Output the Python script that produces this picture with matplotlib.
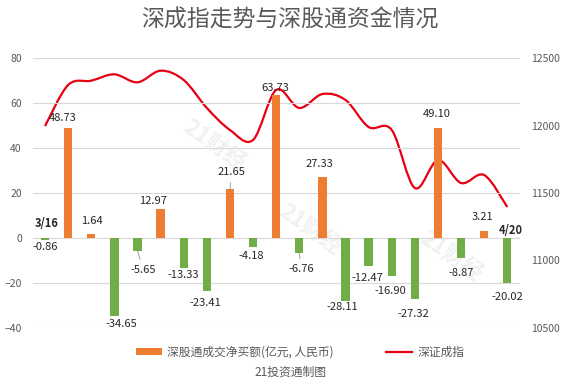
"""深成指走势与深股通资金情况: bars of net buying plus the SZ component index."""

import matplotlib

matplotlib.use("Agg")
import matplotlib.pyplot as plt
import numpy as np
from matplotlib.path import Path
from matplotlib.patches import PathPatch, Patch
from matplotlib.lines import Line2D

plt.rcParams["font.family"] = ["Noto Sans CJK SC", "DejaVu Sans"]

TITLE = "深成指走势与深股通资金情况"
BAR_NAME = "深股通成交净买额(亿元, 人民币)"
LINE_NAME = "深证成指"
SOURCE = "21投资通制图"

# daily net buying (100m CNY), 3/16 .. 4/20
net_buy = [-0.86, 48.73, 1.64, -34.65, -5.65, 12.97, -13.33, -23.41, 21.65, -4.18,
           63.73, -6.76, 27.33, -28.11, -12.47, -16.90, -27.32, 49.10, -8.87, 3.21,
           -20.02]
# Shenzhen component index close
szci = [11996, 12300, 12332, 12379, 12320, 12406, 12337, 12130, 11967, 11893,
        12263, 12130, 12233, 12189, 11989, 11967, 11537, 11744, 11574, 11633,
        11396]
first_day, last_day = "3/16", "4/20"

# label offsets (pixels, from bar end to label centre) and leader-line flags
label_off = [(0, -7), (-5, 10), (1, 13), (7, -8), (6, -19), (-8, 8), (0, -7),
             (-1, -12), (2, 17), (-2, -9), (-1, 7), (2, -16), (-3, 13), (-3, -6),
             (-1, -12), (-1, -15), (-1, -15), (-1, 14), (0, -15), (-2, 14), (0, -14)]
leader = {4, 8, 11}

ORANGE = "#ED7D31"
GREEN = "#70AD47"
RED = "#E60012"
GREY = "#595959"


def smooth_path(x, y):
    """Catmull-Rom curve through the points, as cubic Bezier segments."""
    n = len(x)
    verts = [(x[0], y[0])]
    codes = [Path.MOVETO]
    for i in range(n - 1):
        p0 = np.array([x[max(i - 1, 0)], y[max(i - 1, 0)]], float)
        p1 = np.array([x[i], y[i]], float)
        p2 = np.array([x[i + 1], y[i + 1]], float)
        p3 = np.array([x[min(i + 2, n - 1)], y[min(i + 2, n - 1)]], float)
        c1 = p1 + (p2 - p0) / 6
        c2 = p2 - (p3 - p1) / 6
        verts += [tuple(c1), tuple(c2), tuple(p2)]
        codes += [Path.CURVE4] * 3
    return Path(verts, codes)


def main() -> None:
    fig = plt.figure(figsize=(5.64, 3.82), dpi=100)
    ax = fig.add_axes([33 / 564, 1 - 328 / 382, 487 / 564, 270 / 382])
    ax2 = ax.twinx()

    # faint watermark
    for wx, wy in [(0.38, 0.62), (0.55, 0.40), (0.80, 0.33)]:
        fig.text(wx, wy, "21财经", rotation=-35, fontsize=16, color="#F1F1F1",
                 fontweight="bold", ha="center", va="center", zorder=-1)

    x = np.arange(len(net_buy))
    colors = [ORANGE if v >= 0 else GREEN for v in net_buy]
    ax.bar(x, net_buy, width=0.36, color=colors, zorder=2)

    ax.set_xlim(-0.52, len(x) - 0.45)
    ax.set_ylim(-40, 80)
    ax.set_yticks(range(-40, 81, 20))
    ax.grid(axis="y", color="#D9D9D9", lw=0.8, zorder=0)
    ax.set_xticks([])
    for a in (ax, ax2):
        for s in a.spines.values():
            s.set_visible(False)
        a.tick_params(length=0, labelsize=7.5, labelcolor=GREY, pad=8)

    # index line on the right axis
    ax2.set_ylim(10500, 12500)
    ax2.set_yticks(range(10500, 12501, 500))
    ax2.add_patch(PathPatch(smooth_path(x, szci), fill=False, edgecolor=RED,
                            lw=1.6, zorder=3))
    ax2.set_zorder(0)
    ax.set_zorder(1)
    ax.patch.set_visible(False)

    for i, v in enumerate(net_buy):
        dx, dy = label_off[i]
        arrow = None
        if i in leader:
            arrow = dict(arrowstyle="-", color="#8C8C8C", lw=0.6, shrinkA=2, shrinkB=0)
        ax.annotate(f"{v:.2f}", xy=(i, v), xytext=(dx, dy),
                    textcoords="offset pixels", ha="center", va="center",
                    fontsize=8, color="#262626", arrowprops=arrow, zorder=5)

    ax.annotate(first_day, xy=(0, net_buy[0]), xytext=(2, 16),
                textcoords="offset pixels", ha="center", va="center",
                fontsize=8, fontweight="bold", color="#262626", zorder=5)
    ax.annotate(last_day, xy=(len(x) - 1, 0), xytext=(3, 7),
                textcoords="offset pixels", ha="center", va="center",
                fontsize=8, fontweight="bold", color="#262626", zorder=5)

    fig.text(290 / 564, 1 - 20 / 382, TITLE, ha="center", va="center",
             fontsize=16.5, color=GREY)

    handles = [Patch(facecolor=ORANGE, edgecolor="none"),
               Line2D([], [], color=RED, lw=1.6)]
    fig.legend(handles, [BAR_NAME, LINE_NAME], loc="center",
               bbox_to_anchor=(300 / 564, 1 - 352 / 382), ncol=2, frameon=False,
               fontsize=8.5, labelcolor=GREY, handlelength=2.2, handleheight=0.5,
               columnspacing=4.5, handletextpad=0.4)
    fig.text(290 / 564, 1 - 372 / 382, SOURCE, ha="center", va="center",
             fontsize=8.5, color=GREY)

    fig.savefig("out.png", dpi=100)


if __name__ == "__main__":
    main()
